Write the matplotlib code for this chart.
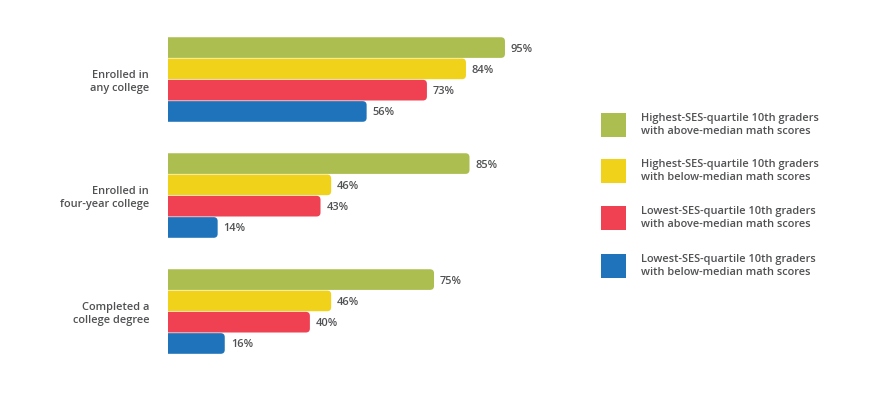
import matplotlib.pyplot as plt
from matplotlib.patches import FancyBboxPatch, Rectangle

plt.rcParams['font.family'] = ['Open Sans', 'DejaVu Sans']

CATEGORIES = ["Enrolled in\nany college", "Enrolled in\nfour-year college", "Completed a\ncollege degree"]
SERIES = [
    "Highest-SES-quartile 10th graders\nwith above-median math scores",
    "Highest-SES-quartile 10th graders\nwith below-median math scores",
    "Lowest-SES-quartile 10th graders\nwith above-median math scores",
    "Lowest-SES-quartile 10th graders\nwith below-median math scores",
]
high_above = [95, 85, 75]
high_below = [84, 46, 46]
low_above = [73, 43, 40]
low_below = [56, 14, 16]
VALUES = [high_above, high_below, low_above, low_below]
COLORS = ["#abbe4f", "#f0d21a", "#ef4152", "#1e73ba"]
TEXT = "#505153"
WEIGHT = 'semibold'
FS = 7.9

fig = plt.figure(figsize=(8.9, 3.95), dpi=100)
ax = fig.add_axes([168 / 890, 25 / 395, 354.7 / 890, 350 / 395])
ax.set_xlim(0, 100)
ax.set_ylim(2.504, -0.513)
ax.axis('off')

pitch = 0.1836
bar_h = 0.178
x_per_px = 100 / 354.7
y_per_px = 1 / 116
aspect = y_per_px / x_per_px
r = 4 * x_per_px

for g, cat in enumerate(CATEGORIES):
    for s, vals in enumerate(VALUES):
        v = vals[g]
        yc = g + (s - 1.5) * pitch
        y0 = yc - bar_h / 2
        # start left of the axes so the left corners get clipped square
        box = FancyBboxPatch((-5, y0), v + 5, bar_h,
                             boxstyle=f"round,pad=0,rounding_size={r}",
                             mutation_aspect=aspect,
                             facecolor=COLORS[s], edgecolor='none')
        ax.add_patch(box)
        ax.text(v + 1.7, yc + 1.5 * y_per_px, f"{v}%", va='center', ha='left', fontsize=FS,
                fontweight=WEIGHT, color=TEXT)
    ax.text(-5.3, g + 2.5 * y_per_px, cat, va='center', ha='right', fontsize=FS,
            fontweight=WEIGHT, color=TEXT, linespacing=1.2)

# legend drawn manually
leg_y = [125, 171, 218, 266]
for s, label in enumerate(SERIES):
    yc = leg_y[s]
    fig.add_artist(Rectangle((601 / 890, (395 - yc - 12) / 395), 25 / 890, 24 / 395,
                             facecolor=COLORS[s], edgecolor='none', transform=fig.transFigure))
    fig.text(641 / 890, (395 - yc) / 395, label, va='center', ha='left', fontsize=FS,
             fontweight=WEIGHT, color=TEXT, linespacing=1.15)

fig.savefig("out.png", dpi=100)
